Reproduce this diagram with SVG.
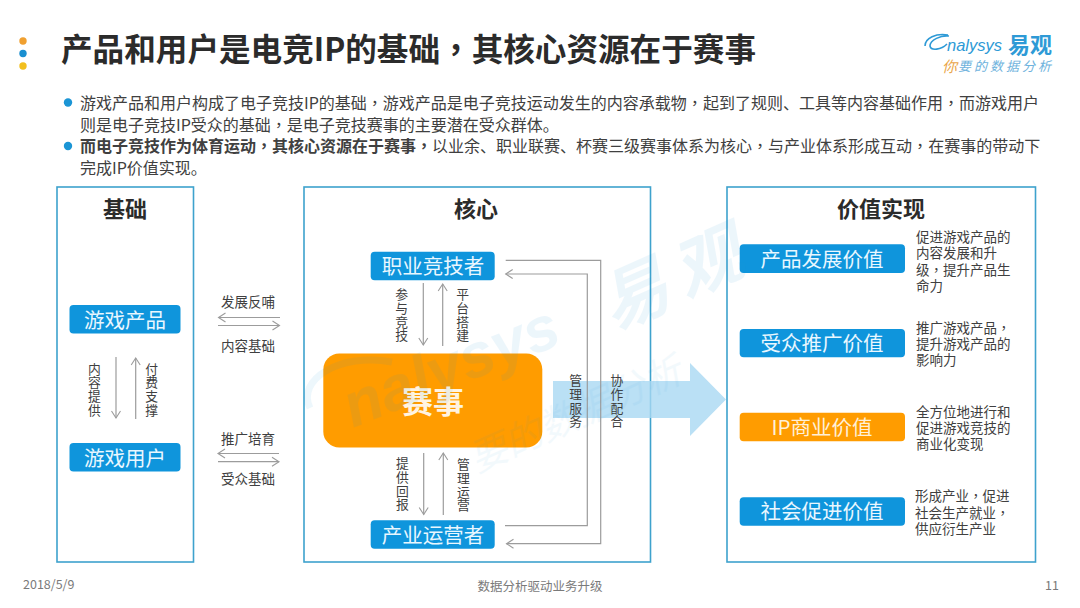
<svg xmlns="http://www.w3.org/2000/svg" width="1080" height="608" viewBox="0 0 1080 608">
<style>
text{font-family:"Noto Sans CJK SC","Noto Sans",sans-serif;dominant-baseline:central;fill:#404040}
.title{font-size:31.6px;font-weight:700;fill:#2b2b2b}
.body{font-size:16px}
.b{font-weight:700}
.c{font-family:"Noto Sans CJK TC",sans-serif}
.head{font-size:22px;font-weight:700;text-anchor:middle;fill:#2b2b2b}
.node{font-size:20.5px;text-anchor:middle;fill:#e9f7ff}
.lab{font-size:13.5px;text-anchor:middle}
.v{font-size:12.8px;text-anchor:middle}
.side{font-size:13.5px}
.foot{font-size:12.5px;fill:#7a7a7a}
.frame{fill:#fff;stroke:#3ea2cd;stroke-width:1.6}
.blue{fill:#0f95dc}
.orange{fill:#ff9c00}
.con{fill:none;stroke:#9c9c9c;stroke-width:1.2}
.wm{fill:#1f95d8;opacity:.08;font-family:"Liberation Sans",sans-serif;font-style:italic;font-weight:700}
</style>
<defs>
<marker id="a" markerUnits="userSpaceOnUse" markerWidth="12" markerHeight="12" refX="10" refY="6" orient="auto"><path d="M3 1.5L10 6L3 10.5" fill="none" stroke="#9c9c9c" stroke-width="1.1"/></marker>
</defs>
<rect width="1080" height="608" fill="#fff"/>
<g id="bullets-top">
<circle cx="23" cy="41" r="3.7" fill="#f0a030"/>
<circle cx="23" cy="53.5" r="3.7" fill="#1a8fd0"/>
<circle cx="23" cy="66" r="3.7" fill="#f2bf1e"/>
</g>
<text class="title" x="61" y="47">产品和用户是电竞IP的基础<tspan class="c">，</tspan>其核心资源在于赛事</text>
<g id="logo">
<path d="M925 46C925 38 936 33 948 35M949 36C941 35 930 40 930 46C931 51 941 50 947 44" fill="none" stroke="#2e9ad6" stroke-width="1.6"/>
<text x="947" y="45" style="font-family:'Liberation Sans',sans-serif;font-style:italic;font-size:16.5px;fill:#2e9ad6">nalysys</text>
<text x="1008" y="43" style="font-size:22px;font-weight:700;fill:#2e9ad6">易观</text>
<text x="942" y="65" style="font-size:15px;font-style:italic;fill:#eaa64a">你</text>
<text x="958" y="65" style="font-size:13px;letter-spacing:3px;font-style:italic;fill:#6fb3dd">要的数据分析</text>
</g>
<circle cx="68" cy="102.5" r="4.2" fill="#1b95d5"/>
<circle cx="68" cy="146" r="4.2" fill="#1b95d5"/>
<text class="body" x="80" y="102">游戏产品和用户构成了电子竞技IP的基础<tspan class="c">，</tspan>游戏产品是电子竞技运动发生的内容承载物<tspan class="c">，</tspan>起到了规则、工具等内容基础作用<tspan class="c">，</tspan>而游戏用户</text>
<text class="body" x="80" y="123.5">则是电子竞技IP受众的基础<tspan class="c">，</tspan>是电子竞技赛事的主要潜在受众群体。</text>
<text class="body" x="80" y="145"><tspan class="b">而电子竞技作为体育运动<tspan class="c">，</tspan>其核心资源在于赛事<tspan class="c">，</tspan></tspan>以业余、职业联赛、杯赛三级赛事体系为核心<tspan class="c">，</tspan>与产业体系形成互动<tspan class="c">，</tspan>在赛事的带动下</text>
<text class="body" x="80" y="166.5">完成IP价值实现。</text>

<g id="frame-base"><rect class="frame" x="57" y="187" width="136.5" height="375"/><text class="head" x="125" y="206.5">基础</text></g>
<g id="frame-core"><rect class="frame" x="304" y="187" width="346.5" height="375"/><text class="head" x="476" y="206.5">核心</text></g>
<g id="frame-value"><rect class="frame" x="727" y="187" width="308.5" height="375"/><text class="head" x="881" y="206.5">价值实现</text></g>

<path id="big-arrow" d="M553 381H690V363L726 399.5L690 436V418H553Z" fill="#a9d8f3" opacity=".8"/>

<g id="connectors" class="con">
<path d="M116 357V418" marker-end="url(#a)"/>
<path d="M135.7 419V358" marker-end="url(#a)"/>
<path d="M280 317.5H218.5" marker-end="url(#a)"/>
<path d="M218 325.5H279.5" marker-end="url(#a)"/>
<path d="M279 453.5H218" marker-end="url(#a)"/>
<path d="M218 461.7H279" marker-end="url(#a)"/>
<path d="M423.3 283V345" marker-end="url(#a)"/>
<path d="M442.7 346V284" marker-end="url(#a)"/>
<path d="M423.7 453V514.5" marker-end="url(#a)"/>
<path d="M443.3 515V453" marker-end="url(#a)"/>
<path d="M505.7 260.3H600.7V543.7H506.5" marker-end="url(#a)"/>
<path d="M505 525.7H587.3V274H505.7" marker-end="url(#a)"/>
</g>

<g id="n-chanpin"><rect class="blue" x="69.5" y="305" width="111" height="28.5" rx="4"/><text class="node" x="125" y="318.5">游戏产品</text></g>
<g id="n-yonghu"><rect class="blue" x="69.5" y="443" width="111" height="28.5" rx="4"/><text class="node" x="125" y="456.5">游戏用户</text></g>
<g id="n-zhiye"><rect class="blue" x="370.7" y="251.7" width="124" height="28.5" rx="4"/><text class="node" x="433" y="265">职业竞技者</text></g>
<g id="n-chanye"><rect class="blue" x="370.7" y="520.3" width="124" height="28.5" rx="4"/><text class="node" x="433" y="533.5">产业运营者</text></g>
<g id="n-saishi"><rect class="orange" x="323.3" y="353.5" width="219" height="94" rx="16"/><text x="433" y="399.5" text-anchor="middle" style="font-size:31px;font-weight:700;fill:#fff4e2">赛事</text></g>
<g id="n-v1"><rect class="blue" x="739.7" y="244.3" width="165.3" height="28.7" rx="4"/><text class="node" x="822" y="257.5">产品发展价值</text></g>
<g id="n-v2"><rect class="blue" x="739.7" y="329" width="165.3" height="28.3" rx="4"/><text class="node" x="822" y="342">受众推广价值</text></g>
<g id="n-v3"><rect class="orange" x="739.7" y="412.7" width="165.3" height="28.5" rx="4"/><text class="node" x="822" y="426" style="fill:#fff0d8">IP商业价值</text></g>
<g id="n-v4"><rect class="blue" x="739.7" y="497.3" width="165.3" height="28.5" rx="4"/><text class="node" x="822" y="510">社会促进价值</text></g>

<g id="labels">
<text class="lab" x="248" y="301">发展反哺</text>
<text class="lab" x="248" y="344.5">内容基础</text>
<text class="lab" x="248" y="437.5">推广培育</text>
<text class="lab" x="248" y="478">受众基础</text>
<text class="v" x="94.3 94.3 94.3 94.3" y="368 381.8 395.6 409.4">内容提供</text>
<text class="v" x="151.7 151.7 151.7 151.7" y="368 381.8 395.6 409.4">付费支撑</text>
<text class="v" x="401.7 401.7 401.7 401.7" y="293.5 307.3 321.1 334.9">参与竞技</text>
<text class="v" x="462.7 462.7 462.7 462.7" y="293.5 307.3 321.1 334.9">平台搭建</text>
<text class="v" x="402.3 402.3 402.3 402.3" y="462.5 476.3 490.1 503.9">提供回报</text>
<text class="v" x="463.3 463.3 463.3 463.3" y="463.5 477.3 491.1 504.9">管理运营</text>
<text class="v" x="575.7 575.7 575.7 575.7" y="379.5 393.3 407.1 420.9">管理服务</text>
<text class="v" x="617 617 617 617" y="379.5 393.3 407.1 420.9">协作配合</text>
<text class="side" x="916" y="235.5">促进游戏产品的</text>
<text class="side" x="916" y="251.5">内容发展和升</text>
<text class="side" x="916" y="268.5">级<tspan class="c">，</tspan>提升产品生</text>
<text class="side" x="916" y="284.5">命力</text>
<text class="side" x="916" y="326.5">推广游戏产品<tspan class="c">，</tspan></text>
<text class="side" x="916" y="342.5">提升游戏产品的</text>
<text class="side" x="916" y="358.5">影响力</text>
<text class="side" x="916" y="410.5">全方位地进行和</text>
<text class="side" x="916" y="426.5">促进游戏竞技的</text>
<text class="side" x="916" y="442.5">商业化变现</text>
<text class="side" x="915" y="495">形成产业<tspan class="c">，</tspan>促进</text>
<text class="side" x="915" y="511.5">社会生产就业<tspan class="c">，</tspan></text>
<text class="side" x="915" y="527.5">供应衍生产业</text>
</g>

<g id="watermark">
<text class="wm" transform="translate(345 408) rotate(-22)" style="font-size:62px">nalysys</text>
<text class="wm" transform="translate(601 304) rotate(-24)" style="font-size:68px;letter-spacing:12px;font-family:'Noto Sans CJK SC',sans-serif">易观</text>
<text class="wm" transform="translate(470 458) rotate(-24)" style="font-size:38px;font-weight:400;font-family:'Noto Sans CJK SC',sans-serif;opacity:.05">要的数据分析</text>
<path d="M310 408C296 380 340 352 392 362" fill="none" stroke="#1f95d8" stroke-width="7" opacity=".08"/>
</g>

<g id="footer">
<text class="foot" x="23" y="583">2018/5/9</text>
<text class="foot" x="540" y="585" text-anchor="middle">数据分析驱动业务升级</text>
<text class="foot" x="1059" y="584" text-anchor="end">11</text>
</g>
</svg>
